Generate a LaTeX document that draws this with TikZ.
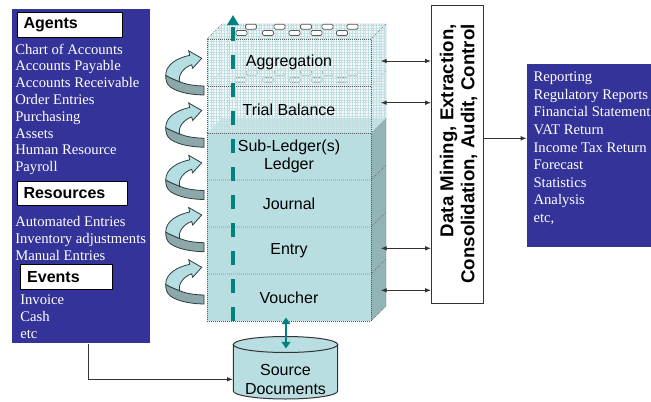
\documentclass[tikz,border=0pt]{standalone}
\usepackage{fontspec}
\setmainfont{Liberation Serif}
\setsansfont{Liberation Sans}
\usetikzlibrary{arrows.meta,patterns.meta}

\definecolor{pptblue}{HTML}{333399}
\definecolor{tealfront}{HTML}{B9DEE2}
\definecolor{tealside}{HTML}{93B4B6}
\definecolor{tealtop}{HTML}{A6D0D4}
\definecolor{glassfill}{HTML}{F4FAFB}
\definecolor{glassside}{HTML}{DCEFF1}
\definecolor{hatchcol}{HTML}{BFDFE3}
\definecolor{arrowteal}{HTML}{00827E}
\definecolor{curllight}{HTML}{B4DEE2}
\definecolor{curldark}{HTML}{8CA8AA}
\definecolor{curledge}{HTML}{2E3D3E}
\definecolor{edgegray}{HTML}{5A5A5A}
\definecolor{linegray}{HTML}{333333}

\tikzset{
  bluebox/.style={fill=pptblue, inner sep=0pt, anchor=north west},
  titlebox/.style={draw=black, line width=0.8pt, fill=white, anchor=north west,
    inner xsep=4.5pt, inner ysep=0pt, align=left,
    font=\sffamily\bfseries\fontsize{12}{14}\selectfont},
  wtext/.style={anchor=base west, inner sep=0pt, text=white,
    font=\rmfamily\fontsize{11}{13}\selectfont},
  layertext/.style={align=center, inner sep=0pt,
    font=\sffamily\fontsize{12}{13.9}\selectfont},
  stackedge/.style={draw=edgegray, densely dotted, line width=0.5pt},
  hatch/.style={pattern={Hatch[distance=2pt, line width=0.25pt]}, pattern color=hatchcol},
  coin/.style={draw=edgegray, fill=white, line width=0.5pt, rounded corners=1pt},
  conn/.style={draw=linegray, line width=0.75pt, -{Latex[length=4.5pt,width=3.5pt]}},
  dblconn/.style={draw=linegray, line width=0.75pt,
    {Latex[length=4.5pt,width=3.5pt]}-{Latex[length=4.5pt,width=3.5pt]}},
  curl/.pic={
    % underside of the ribbon
    \fill[curldark, draw=curledge, line width=0.6pt]
      (-36,17) .. controls (-36,22) and (-35,26) .. (-31,29)
      .. controls (-22,35) and (-8,36.5) .. (2.3,36.7) -- (2.3,27.7)
      .. controls (-8,27.5) and (-16,26) .. (-22,23.5)
      .. controls (-28,21) and (-33,19) .. (-36,17) -- cycle;
    % upper face with the head
    \fill[curllight, draw=curledge, line width=0.6pt]
      (0,0) -- (-13,-7.5) -- (-12,-3)
      .. controls (-24,-0.5) and (-36,6) .. (-36,17)
      .. controls (-33,19) and (-28,21) .. (-22,23.5)
      .. controls (-24,17) and (-18,9) .. (-10,6.5) -- (-9,10) -- cycle;
  }
}

\begin{document}
\begin{tikzpicture}[x=0.75pt, y=-0.75pt]
\useasboundingbox (0,0) rectangle (651,401);

% ---------- left panel ----------
\node[bluebox, minimum width=103.5pt, minimum height=250.5pt] (lb) at (12,9) {};
\node[titlebox, text width=69.75pt, minimum height=18.75pt] (agents) at (17,12) {Agents};
\node[titlebox, text width=73.5pt, minimum height=18pt] (resources) at (17,181) {Resources};
\node[titlebox, text width=59pt, inner xsep=5pt, minimum height=18.75pt] (events) at (20,264) {Events};

\foreach \t [count=\i] in {Chart of Accounts, Accounts Payable, Accounts Receivable,
    Order Entries, Purchasing, Assets, Human Resource, Payroll}
  \node[wtext] (ag\i) at (15,{54+16.8*(\i-1)}) {\t};
\foreach \t [count=\i] in {Automated Entries, Inventory adjustments, Manual Entries}
  \node[wtext] (rs\i) at (15,{226.7+16.7*(\i-1)}) {\t};
\foreach \t [count=\i] in {Invoice, Cash, etc}
  \node[wtext] (ev\i) at (20,{304.5+16.8*(\i-1)}) {\t};

% ---------- curled arrows ----------
\foreach \ty in {58.3,110.5,162.8,215,267.3}
  \pic at (201.7,\ty) {curl};

% ---------- stack: solid layers ----------
\fill[tealfront] (207,133) rectangle (371,321);
\fill[tealside] (371,133) -- (386,118) -- (386,306) -- (371,321) -- cycle;
\fill[tealtop] (207,133) -- (222,118) -- (386,118) -- (371,133) -- cycle;
\foreach \yy in {180,227,274}
  \draw[stackedge] (207,\yy) -- (371,\yy) -- (386,\yy-15);
\draw[stackedge] (207,133) rectangle (371,321);
\draw[stackedge] (371,321) -- (386,306) -- (386,118) -- (371,133);

% ---------- stack: trial balance (glass) ----------
\fill[glassfill, fill opacity=0.5] (207,86) rectangle (371,133);
\fill[hatch] (207,86) rectangle (371,133);
\fill[glassside, fill opacity=0.6] (371,86) -- (386,71) -- (386,118) -- (371,133) -- cycle;
\fill[hatch] (371,86) -- (386,71) -- (386,118) -- (371,133) -- cycle;
\fill[glassfill] (207,86) -- (222,71) -- (386,71) -- (371,86) -- cycle;
\fill[hatch] (207,86) -- (222,71) -- (386,71) -- (371,86) -- cycle;
\foreach \cx in {251.7,280,306,328,352.5}
  \draw[coin] (\cx-5.5,70.2) rectangle (\cx+5.5,75.2);
\foreach \cx in {240.5,268.3,294.7,316.7,341.7}
  \draw[coin] (\cx-5.5,77.5) rectangle (\cx+5.5,82.5);
\draw[stackedge] (207,86) rectangle (371,133);
\draw[stackedge] (207,86) -- (222,71) -- (386,71) -- (386,118);
\draw[stackedge] (371,86) -- (386,71);

% ---------- stack: aggregation (glass) ----------
\fill[glassfill, fill opacity=0.5] (207,39) rectangle (371,86);
\fill[hatch] (207,39) rectangle (371,86);
\fill[glassside, fill opacity=0.6] (371,39) -- (386,24) -- (386,71) -- (371,86) -- cycle;
\fill[hatch] (371,39) -- (386,24) -- (386,71) -- (371,86) -- cycle;
\fill[glassfill] (207,39) -- (222,24) -- (386,24) -- (371,39) -- cycle;
\fill[hatch] (207,39) -- (222,24) -- (386,24) -- (371,39) -- cycle;
\foreach \cx in {251,279.5,306,327.5,352.5}
  \draw[coin] (\cx-5.5,24.2) rectangle (\cx+5.5,29.2);
\foreach \cx in {241.5,268,294.5,316.5,342}
  \draw[coin] (\cx-5.5,30.5) rectangle (\cx+5.5,35.5);
\draw[stackedge] (207,39) rectangle (371,86);
\draw[stackedge] (207,39) -- (222,24) -- (386,24) -- (386,71);
\draw[stackedge] (371,39) -- (386,24);

% ---------- layer labels ----------
\node[layertext] (agg) at (289,62.5) {Aggregation};
\node[layertext] (tb)  at (289,109.5) {Trial Balance};
\node[layertext] (sl)  at (289,156.5) {Sub-Ledger(s)\\Ledger};
\node[layertext] (jr)  at (289,203.5) {Journal};
\node[layertext] (en)  at (289,250.5) {Entry};
\node[layertext] (vo)  at (289,297.5) {Voucher};

% ---------- upward dashed arrow ----------
\coordinate (dashbot) at (233,321);
\coordinate (dashtop) at (233,15);
\draw[arrowteal, line width=3pt, dash pattern=on 10.5pt off 10.5pt,
      -{Triangle[length=7.5pt,width=8.5pt]}] (dashbot) -- (dashtop);

% ---------- source documents cylinder ----------
\fill[tealfront, draw=linegray, line width=0.75pt]
  (233.3,344.5) -- (233.3,391)
  arc[start angle=180, end angle=360, x radius=39.15pt, y radius=6pt]
  -- (337.7,344.5) -- cycle;
\draw[fill=tealfront, draw=linegray, line width=0.75pt]
  (285.5,344.5) ellipse [x radius=39.15pt, y radius=6pt];
\node[layertext, minimum width=78.3pt] (src) at (285.5,379.3) {Source\\Documents};

\coordinate (vt) at (286,317.5);
\coordinate (ct) at (286,348.5);
\draw[arrowteal, line width=2pt,
      {Triangle[length=5pt,width=6.5pt]}-{Triangle[length=5pt,width=6.5pt]}] (vt) -- (ct);

% ---------- extraction box ----------
\node[draw=linegray, line width=0.9pt, fill=white, minimum width=38.7pt,
      minimum height=223.2pt, inner sep=0pt] (dm) at (457.5,154.5) {};
\node[rotate=90, align=right, inner sep=0pt,
      font=\sffamily\bfseries\fontsize{14}{15.75}\selectfont] (dmtext) at (458.5,154)
  {Data Mining, Extraction,\\Consolidation,\ Audit,\ Control};

\coordinate (s1) at (380.7,61);
\coordinate (s2) at (380.7,102.7);
\coordinate (s3) at (380.7,248.3);
\coordinate (s4) at (380.7,290.3);
\foreach \s in {s1,s2,s3,s4}
  \draw[dblconn] (\s) -- (\s -| dm.west);

% ---------- reporting panel ----------
\node[bluebox, minimum width=94.5pt, minimum height=137.6pt] (rb) at (526.7,63.3) {};
\foreach \t [count=\i] in {Reporting, Regulatory Reports, Financial Statement, VAT Return,
    Income Tax Return, Forecast, Statistics, Analysis, {etc,}}
  \node[wtext] (rp\i) at (533.3,{81.7+17.6*(\i-1)}) {\t};

\draw[conn] (dm.east |- 0,138.3) -- (rb.west |- 0,138.3);

% ---------- panel to source documents ----------
\draw[conn] (lb.south -| 88,0) |- (src.west);

\end{tikzpicture}
\end{document}
